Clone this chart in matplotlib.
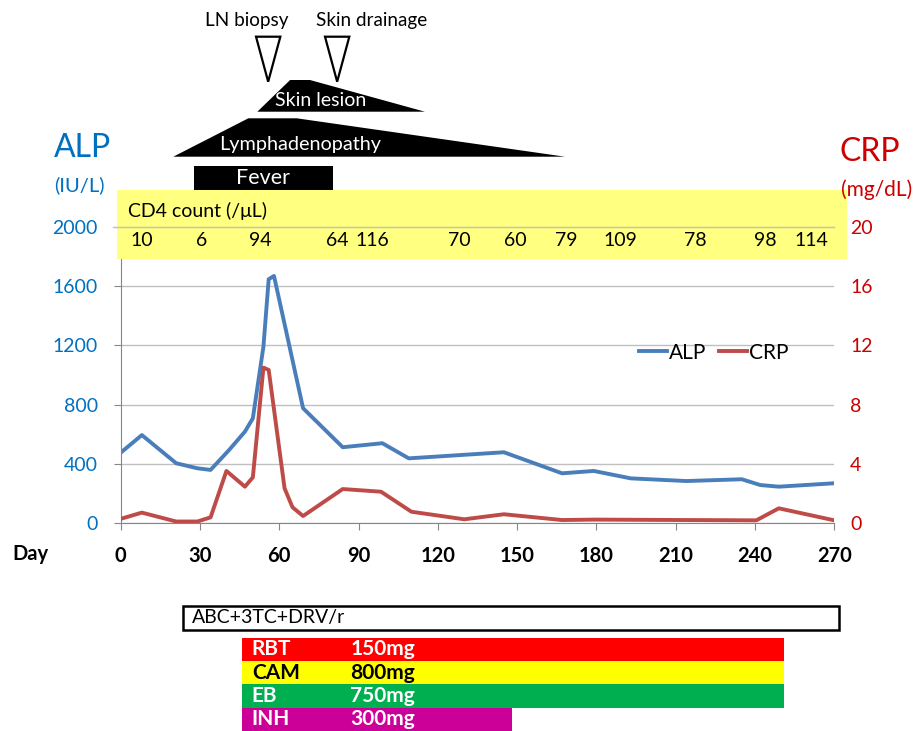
import numpy as np
import matplotlib
matplotlib.use("Agg")
import matplotlib.pyplot as plt
import matplotlib.transforms as mtransforms
from matplotlib.patches import Polygon, Rectangle
from matplotlib.lines import Line2D

plt.rcParams['font.family'] = ['Lato', 'DejaVu Sans']

# ALP (IU/L), left axis
alp_days = [0, 8, 21, 29, 34, 41, 47, 50, 54, 56, 58, 69, 84, 99, 109, 145, 167, 179, 193, 214, 235, 242, 249, 270]
alp_vals = [476, 595, 405, 371, 360, 494, 618, 708, 1191, 1646, 1668, 776, 513, 540, 438, 479, 337, 353, 303, 285, 297, 258, 247, 270]

# CRP (mg/dL), right axis
crp_days = [0, 8, 21, 29, 34, 40, 47, 50, 54, 56, 62, 65, 69, 84, 98.5, 110, 130, 145, 167, 179, 214, 240.5, 249, 270]
crp_vals = [0.3, 0.72, 0.12, 0.12, 0.4, 3.53, 2.47, 3.1, 10.5, 10.34, 2.36, 1.08, 0.49, 2.31, 2.13, 0.78, 0.27, 0.61, 0.22, 0.25, 0.22, 0.2, 1.01, 0.2]

# CD4 counts (/uL)
cd4_days = [8.1, 30.5, 52.7, 82.1, 95.3, 128.2, 149.2, 168.5, 188.9, 217.3, 244, 261.3]
cd4_vals = [10, 6, 94, 64, 116, 70, 60, 79, 109, 78, 98, 114]

# treatment bars (days)
drugs = ['RBT', 'CAM', 'EB', 'INH']
doses = ['150mg', '800mg', '750mg', '300mg']
drug_start = [45.8, 45.8, 45.8, 45.8]
drug_end = [251.1, 251.1, 251.1, 148.2]
drug_colors = ['#FF0000', '#FFFF00', '#00B050', '#CC0099']
drug_text = ['white', 'black', 'white', 'white']
art_label = 'ABC+3TC+DRV/r'
art_span = (23.5, 271.9)

# clinical course (days)
fever_span = (27.7, 80.3)
lymph_shape = [19.9, 48.3, 66.6, 168.1]
skin_shape = [51.7, 64.1, 71.6, 115.1]
events = ['LN biopsy', 'Skin drainage']
event_days = [55.8, 81.9]

W, H = 916, 731
BLUE = '#0070C0'
RED = '#CC0000'
GRAY = '#868686'

fig = plt.figure(figsize=(W / 100, H / 100), dpi=100)
ax = fig.add_axes([120.7 / W, 1 - 523.3 / H, (834.3 - 120.7) / W, (523.3 - 226.7) / H])
ax.set_facecolor('none')
ax2 = ax.twinx()

l1, = ax.plot(alp_days, alp_vals, color='#4A7EBB', lw=2.8, label='ALP')
l2, = ax2.plot(crp_days, crp_vals, color='#BE4B48', lw=2.8, label='CRP')

ax.set_xlim(0, 270)
ax.set_ylim(0, 2000)
ax2.set_ylim(0, 20)
ax.set_xticks(range(0, 271, 30))
ax.set_yticks(range(0, 2001, 400))
ax2.set_yticks(range(0, 21, 4))

ax.grid(axis='y', color='#C0C0C0', lw=1)
for s in ['top', 'right']:
    ax.spines[s].set_visible(False)
for s in ['left', 'bottom']:
    ax.spines[s].set_color(GRAY)
for s in ax2.spines.values():
    s.set_visible(False)

ax.tick_params(axis='y', direction='out', length=5, color=GRAY, pad=11.5,
               labelcolor=BLUE, labelsize=14)
ax.tick_params(axis='x', direction='out', length=5, color=GRAY, pad=11,
               labelsize=14.5)
for t in ax.get_xticklabels():
    t.set_fontweight('bold')
ax2.tick_params(axis='y', length=0, pad=11.5, labelcolor=RED, labelsize=14)

ax.legend(handles=[l1, l2], loc='center', bbox_to_anchor=(0.831, 0.575), ncol=2,
          frameon=False, handlelength=1.35, handletextpad=0.1, columnspacing=0.6,
          fontsize=15)

# pixel-based layout transform (origin top-left) and day/pixel blend
px = mtransforms.Affine2D().scale(1 / W, -1 / H).translate(0, 1) + fig.transFigure
dayx = mtransforms.blended_transform_factory(ax.transData, px)

# axis titles
fig.text(82.7, 148, 'ALP', transform=px, color=BLUE, fontsize=23, ha='center', va='center')
fig.text(79.3, 185, '(IU/L)', transform=px, color=BLUE, fontsize=14.5, ha='center', va='center')
fig.text(870, 152, 'CRP', transform=px, color=RED, fontsize=23, ha='center', va='center')
fig.text(876.5, 190, '(mg/dL)', transform=px, color=RED, fontsize=15, ha='center', va='center')
fig.text(30, 554, 'Day', transform=px, fontsize=14.5, fontweight='bold', ha='center', va='center')

# CD4 band
fig.add_artist(Rectangle((116.7, 190), 730.6, 69.3, transform=px, color='#FFFF80', lw=0, zorder=1))
fig.add_artist(Line2D([113, 834.3], [226.7, 226.7], transform=px, color='#C0C0C0', lw=1, zorder=2))
fig.text(127.7, 211, 'CD4 count (/\u03bcL)', transform=px, fontsize=14, ha='left', va='center', zorder=3)
for d, v in zip(cd4_days, cd4_vals):
    fig.text(d, 241, str(v), transform=dayx, fontsize=14, ha='center', va='center', zorder=3)

# clinical course
fig.add_artist(Rectangle((fever_span[0], 165.7), fever_span[1] - fever_span[0], 24.3,
                         transform=dayx, color='black', lw=0))
fig.text(np.mean(fever_span), 178, 'Fever', transform=dayx, color='white', fontsize=15.5,
         ha='center', va='center')
fig.add_artist(Polygon(list(zip(lymph_shape, [156.7, 118.3, 118.3, 156.7])), closed=True,
                       transform=dayx, color='black', lw=0))
fig.text(67.8, 144.5, 'Lymphadenopathy', transform=dayx, color='white', fontsize=14.3,
         ha='center', va='center')
fig.add_artist(Polygon(list(zip(skin_shape, [111.7, 80, 80, 111.7])), closed=True,
                       transform=dayx, color='black', lw=0))
fig.text(75.8, 100, 'Skin lesion', transform=dayx, color='white', fontsize=14,
         ha='center', va='center')
for name, d, lx in zip(events, event_days, [47.7, 95]):
    fig.add_artist(Polygon([(d - 4.6, 36.7), (d + 4.6, 36.7), (d, 81.7)], closed=True,
                           transform=dayx, facecolor='white', edgecolor='black', lw=1.6))
    fig.text(lx, 20.5, name, transform=dayx, fontsize=13.6, ha='center', va='center')

# treatment
fig.add_artist(Rectangle((art_span[0], 606), art_span[1] - art_span[0], 24, transform=dayx,
                         facecolor='white', edgecolor='black', lw=1.8))
fig.text(art_span[0] + 3.6, 618, art_label, transform=dayx, fontsize=14, ha='left', va='center')
row_h = 23.3
for i, (nm, ds, s0, s1, c, tc) in enumerate(zip(drugs, doses, drug_start, drug_end,
                                                 drug_colors, drug_text)):
    top = 637.7 + i * row_h
    fig.add_artist(Rectangle((s0, top), s1 - s0, row_h, transform=dayx, color=c, lw=0))
    fig.text(s0 + 3.8, top + row_h / 2, nm, transform=dayx, color=tc, fontsize=15,
             fontweight='bold', ha='left', va='center')
    fig.text(86.8, top + row_h / 2, ds, transform=dayx, color=tc, fontsize=15,
             fontweight='bold', ha='left', va='center')

fig.savefig('out.png', dpi=100)
